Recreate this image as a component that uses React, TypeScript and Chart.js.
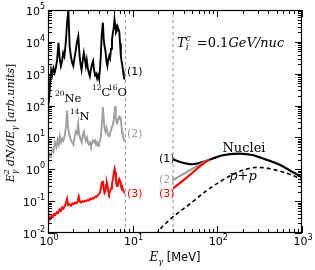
import React, { useEffect, useRef } from "react";
import { Chart, registerables } from "chart.js";

Chart.register(...registerables);

// ---------- data ----------
const blackE = [1.0, 1.03, 1.06, 1.09, 1.12, 1.16, 1.2, 1.24, 1.28, 1.33, 1.37, 1.42, 1.47, 1.51, 1.56, 1.62, 1.68, 1.74, 1.8, 1.86, 1.93, 1.99, 2.06, 2.13, 2.2, 2.28, 2.35, 2.42, 2.49, 2.57, 2.65, 2.72, 2.8, 2.87, 2.95, 3.03, 3.12, 3.2, 3.3, 3.41, 3.5, 3.6, 3.7, 3.8, 3.9, 4.0, 4.1, 4.2, 4.3, 4.45, 4.55, 4.65, 4.78, 4.9, 5.03, 5.15, 5.28, 5.4, 5.55, 5.7, 5.85, 6.0, 6.1, 6.22, 6.35, 6.5, 6.65, 6.8, 6.95, 7.1, 7.25, 7.4, 7.55, 7.7, 7.85, 8.0];
const blackV = [90, 160, 550, 1300, 900, 1500, 1100, 1600, 2600, 9300, 3200, 1750, 2600, 4500, 3500, 9000, 40000, 100000, 7500, 3600, 2200, 1750, 3200, 5500, 10000, 15000, 4200, 2000, 1300, 2600, 4500, 2900, 1750, 2700, 1500, 1100, 830, 1300, 1900, 2500, 1300, 900, 1000, 720, 900, 700, 1260, 3500, 15000, 40000, 12000, 7400, 5000, 2500, 1750, 2800, 3600, 3000, 6000, 11700, 20000, 30000, 51000, 35000, 19500, 22000, 30000, 24500, 21000, 9000, 3600, 2500, 1800, 1200, 850, 650];

const greyE = [1.0, 1.04, 1.08, 1.12, 1.16, 1.21, 1.26, 1.3, 1.34, 1.38, 1.43, 1.48, 1.52, 1.58, 1.63, 1.68, 1.73, 1.8, 1.87, 1.93, 1.99, 2.05, 2.12, 2.2, 2.27, 2.34, 2.42, 2.5, 2.58, 2.66, 2.73, 2.8, 2.88, 2.96, 3.05, 3.14, 3.22, 3.3, 3.4, 3.5, 3.6, 3.7, 3.8, 3.9, 4.0, 4.1, 4.2, 4.32, 4.45, 4.55, 4.65, 4.78, 4.9, 5.05, 5.2, 5.36, 5.5, 5.65, 5.8, 5.95, 6.08, 6.2, 6.32, 6.45, 6.6, 6.75, 6.9, 7.05, 7.2, 7.35, 7.5, 7.65, 7.8, 8.0];
const greyV = [2.0, 3.0, 2.5, 4.2, 3.5, 7.0, 5.0, 8.5, 6.0, 11, 7.0, 9.0, 8.0, 12, 22, 70, 20, 11, 8.0, 7.0, 6.0, 9.0, 15, 13, 27, 12, 9.0, 7.0, 12, 15, 10, 8.0, 10, 7.0, 6.0, 7.0, 5.5, 6.5, 8.0, 7.0, 8.0, 6.0, 7.0, 5.5, 6.5, 7.5, 10, 25, 90, 40, 20, 15, 20, 14, 11, 11.5, 16, 20, 24, 32, 55, 95, 40, 30, 28, 38, 45, 40, 42, 25, 15, 11, 9, 7.5];

const redE = [1.0, 1.02, 1.04, 1.07, 1.1, 1.14, 1.18, 1.22, 1.27, 1.32, 1.37, 1.42, 1.47, 1.52, 1.58, 1.63, 1.68, 1.73, 1.8, 1.87, 1.94, 2.0, 2.08, 2.15, 2.25, 2.31, 2.38, 2.46, 2.55, 2.65, 2.75, 2.85, 2.95, 3.05, 3.15, 3.25, 3.35, 3.45, 3.55, 3.65, 3.75, 3.85, 3.95, 4.05, 4.15, 4.25, 4.35, 4.45, 4.55, 4.65, 4.75, 4.85, 4.95, 5.05, 5.15, 5.25, 5.4, 5.55, 5.7, 5.85, 6.0, 6.13, 6.25, 6.35, 6.5, 6.65, 6.8, 6.95, 7.1, 7.25, 7.4, 7.55, 7.7, 7.85, 8.0];
const redV = [0.04, 0.025, 0.03, 0.028, 0.035, 0.032, 0.04, 0.037, 0.045, 0.042, 0.055, 0.05, 0.065, 0.058, 0.07, 0.09, 0.12, 0.075, 0.08, 0.072, 0.085, 0.08, 0.09, 0.085, 0.1, 0.14, 0.095, 0.09, 0.1, 0.095, 0.105, 0.1, 0.11, 0.105, 0.12, 0.115, 0.125, 0.12, 0.13, 0.14, 0.135, 0.15, 0.16, 0.17, 0.2, 0.3, 0.4, 0.43, 0.25, 0.18, 0.2, 0.32, 0.38, 0.3, 0.2, 0.17, 0.2, 0.25, 0.35, 0.5, 0.8, 1.05, 0.8, 0.4, 0.3, 0.3, 0.45, 0.5, 0.42, 0.3, 0.25, 0.28, 0.22, 0.2, 0.19];

const nucleiE = [30, 35, 40, 45, 50, 60, 70, 80, 100, 120, 140, 180, 220, 260, 300, 370, 450, 530, 650, 760, 880, 1000];
const nucleiV = [2.06, 1.75, 1.57, 1.47, 1.44, 1.55, 1.75, 1.98, 2.45, 2.8, 3.0, 3.1, 3.0, 2.8, 2.5, 2.05, 1.7, 1.44, 1.08, 0.84, 0.68, 0.55];

const greyRiseE = [30, 40, 50, 60, 70, 80];
const greyRiseV = [0.46, 0.72, 1.02, 1.35, 1.68, 1.98];
const redRiseE = [30, 40, 50, 60, 70, 80];
const redRiseV = [0.25, 0.46, 0.75, 1.15, 1.6, 1.98];

const ppE = [19, 22, 26, 32, 38, 46, 58, 72, 88, 103, 125, 150, 180, 215, 250, 290, 340, 400, 480, 580, 700, 850, 1000];
const ppV = [0.009, 0.015, 0.023, 0.037, 0.053, 0.077, 0.125, 0.2, 0.29, 0.38, 0.52, 0.67, 0.85, 1.0, 1.1, 1.15, 1.13, 1.07, 0.96, 0.84, 0.71, 0.58, 0.46];

const cutLines = [8.2, 30];
const xRange = [1, 1000];
const yRange = [0.01, 1e5];

const pts = (xs: number[], ys: number[]) => xs.map((x, i) => ({ x, y: ys[i] }));

type Run = { t: string; font: string; dy?: number; adv?: boolean };

function runsWidth(ctx: CanvasRenderingContext2D, runs: Run[]) {
  let w = 0;
  for (const r of runs) {
    ctx.font = r.font;
    if (r.adv !== false) w += ctx.measureText(r.t).width;
  }
  return w;
}
function drawRuns(ctx: CanvasRenderingContext2D, runs: Run[], x: number, y: number) {
  let cx = x;
  for (const r of runs) {
    ctx.font = r.font;
    ctx.fillText(r.t, cx, y + (r.dy || 0));
    if (r.adv !== false) cx += ctx.measureText(r.t).width;
  }
}

const SANS = "DejaVu Sans";
const SERIF = "DejaVu Serif";

const decor = {
  id: "decor",
  afterDatasetsDraw(chart: any) {
    const { ctx, chartArea: a, scales } = chart;
    const xs = scales.x;
    const ys = scales.y;
    ctx.save();
    ctx.textAlign = "left";
    ctx.textBaseline = "alphabetic";
    const info = (v: number) => {
      const e = Math.floor(Math.log10(v) + 1e-9);
      const m = v / Math.pow(10, e);
      return { e, ok: Math.abs(m - Math.round(m)) < 1e-6, major: Math.abs(m - 1) < 1e-6 };
    };
    // frame
    ctx.strokeStyle = "#000";
    ctx.lineWidth = 1.2;
    ctx.strokeRect(a.left + 0.5, a.top + 0.5, a.right - a.left - 1, a.bottom - a.top - 1);
    // ticks
    ctx.lineWidth = 1;
    ctx.beginPath();
    for (const t of xs.ticks) {
      const f = info(t.value);
      if (!f.ok || t.value < xs.min || t.value > xs.max) continue;
      const px = Math.round(xs.getPixelForValue(t.value)) + 0.5;
      const L = f.major ? 7 : 4;
      ctx.moveTo(px, a.bottom);
      ctx.lineTo(px, a.bottom - L);
      ctx.moveTo(px, a.top);
      ctx.lineTo(px, a.top + L);
    }
    for (const t of ys.ticks) {
      const f = info(t.value);
      if (!f.ok || t.value < ys.min || t.value > ys.max) continue;
      const py = Math.round(ys.getPixelForValue(t.value)) + 0.5;
      const L = f.major ? 7 : 4;
      ctx.moveTo(a.left, py);
      ctx.lineTo(a.left + L, py);
      ctx.moveTo(a.right, py);
      ctx.lineTo(a.right - L, py);
    }
    ctx.stroke();

    // tick labels
    ctx.fillStyle = "#000";
    const base = `11px ${SANS}`;
    const sup = `8px ${SANS}`;
    for (const t of xs.ticks) {
      const f = info(t.value);
      if (!f.major) continue;
      const runs: Run[] = [
        { t: "10", font: base },
        { t: String(f.e), font: sup, dy: -5 },
      ];
      const w = runsWidth(ctx, runs);
      const px = xs.getPixelForValue(t.value);
      drawRuns(ctx, runs, px - w / 2 + 1, a.bottom + 12);
    }
    for (const t of ys.ticks) {
      const f = info(t.value);
      if (!f.major) continue;
      const runs: Run[] = [
        { t: "10", font: base },
        { t: String(f.e), font: sup, dy: -6 },
      ];
      const w = runsWidth(ctx, runs);
      const py = ys.getPixelForValue(t.value);
      drawRuns(ctx, runs, a.left - 3 - w, py + 5);
    }

    // axis titles
    const it = `italic 12px ${SERIF}`;
    const itS = `italic 8px ${SERIF}`;
    const xTitle: Run[] = [
      { t: "E", font: it },
      { t: "γ", font: itS, dy: 3 },
      { t: " [MeV]", font: `11.5px ${SANS}` },
    ];
    const xw = runsWidth(ctx, xTitle);
    drawRuns(ctx, xTitle, (a.left + a.right) / 2 - xw / 2, 261);

    const yit = `italic 11px ${SERIF}`;
    const yTitle: Run[] = [
      { t: "E", font: yit },
      { t: "2", font: itS, dy: -5, adv: false },
      { t: "γ", font: itS, dy: 3 },
      { t: " dN/dE", font: yit },
      { t: "γ", font: itS, dy: 3 },
      { t: " [", font: `11px ${SERIF}` },
      { t: "arb.units", font: yit },
      { t: "]", font: `11px ${SERIF}` },
    ];
    const yw = runsWidth(ctx, yTitle);
    ctx.save();
    ctx.translate(14, 123);
    ctx.rotate(-Math.PI / 2);
    drawRuns(ctx, yTitle, -yw / 2, 0);
    ctx.restore();

    // annotations
    const lab = `11px ${SANS}`;
    const put = (txt: string, color: string, x: number, y: number) => {
      ctx.fillStyle = color;
      ctx.font = lab;
      ctx.fillText(txt, x, y);
    };
    put("(1)", "#000", 127, 75);
    put("(2)", "#a0a0a0", 127, 137);
    put("(3)", "#ff0000", 127, 197);
    put("(1)", "#000", 159, 162);
    put("(2)", "#a0a0a0", 159, 183);
    put("(3)", "#ff0000", 159, 197);

    ctx.fillStyle = "#000";
    const iso = (s: string, el: string, x: number, y: number) => {
      drawRuns(ctx, [
        { t: s, font: `7.5px ${SERIF}`, dy: -6 },
        { t: el, font: `11.5px ${SERIF}` },
      ], x, y);
    };
    iso("20", "Ne", 55, 102);
    iso("14", "N", 70, 120);
    iso("12", "C", 92, 96);
    iso("16", "O", 108, 96);

    ctx.font = `13px ${SERIF}`;
    ctx.textAlign = "center";
    ctx.fillText("Nuclei", 244, 152);
    ctx.font = `italic 13px ${SERIF}`;
    ctx.fillText("p+p", 243, 180);
    ctx.textAlign = "left";

    drawRuns(ctx, [
      { t: "T", font: `italic 13px ${SERIF}` },
      { t: "c", font: `italic 9px ${SERIF}`, dy: -6, adv: false },
      { t: "i", font: `italic 9px ${SERIF}`, dy: 3 },
      { t: "  =0.1", font: `13px ${SERIF}` },
      { t: "GeV/nuc", font: `italic 13px ${SERIF}` },
    ], 177, 47);

    ctx.restore();
  },
};

export default function App() {
  const ref = useRef<HTMLCanvasElement | null>(null);
  useEffect(() => {
    if (!ref.current) return;
    const line = (data: any[], color: string, width: number, extra: any = {}) => ({
      data,
      borderColor: color,
      backgroundColor: color,
      borderWidth: width,
      pointRadius: 0,
      fill: false,
      tension: 0,
      ...extra,
    });
    const chart = new Chart(ref.current, {
      type: "line",
      data: {
        datasets: [
          ...cutLines.map((c) =>
            line([{ x: c, y: yRange[0] }, { x: c, y: yRange[1] }], "#909090", 1, { borderDash: [3, 3] })
          ),
          line(pts(redE, redV), "#ff0000", 1.9),
          line(pts(greyE, greyV), "#a0a0a0", 1.9),
          line(pts(blackE, blackV), "#000000", 1.9),
          line(pts(ppE, ppV), "#000000", 1.6, { borderDash: [4, 3], cubicInterpolationMode: "monotone" }),
          line(pts(redRiseE, redRiseV), "#ff0000", 2.2),
          line(pts(greyRiseE, greyRiseV), "#a0a0a0", 2.2),
          line(pts(nucleiE, nucleiV), "#000000", 2.2, { cubicInterpolationMode: "monotone" }),
        ],
      },
      options: {
        animation: false,
        responsive: false,
        maintainAspectRatio: false,
        devicePixelRatio: 1,
        layout: { padding: { left: 0, right: 13, top: 10, bottom: 0 } },
        plugins: { legend: { display: false }, tooltip: { enabled: false } },
        scales: {
          x: {
            type: "logarithmic",
            min: xRange[0],
            max: xRange[1],
            grid: { display: false },
            border: { display: false },
            ticks: { display: false, autoSkip: false },
            afterFit: (s: any) => {
              s.height = 37;
            },
          },
          y: {
            type: "logarithmic",
            min: yRange[0],
            max: yRange[1],
            grid: { display: false },
            border: { display: false },
            ticks: { display: false, autoSkip: false },
            afterFit: (s: any) => {
              s.width = 48;
            },
          },
        },
      },
      plugins: [decor],
    });
    return () => chart.destroy();
  }, []);
  return (
    <div style={{ position: "absolute", left: 0, top: 0, width: 315, height: 270, background: "#fff" }}>
      <canvas ref={ref} width={315} height={270} style={{ width: 315, height: 270 }} />
    </div>
  );
}
